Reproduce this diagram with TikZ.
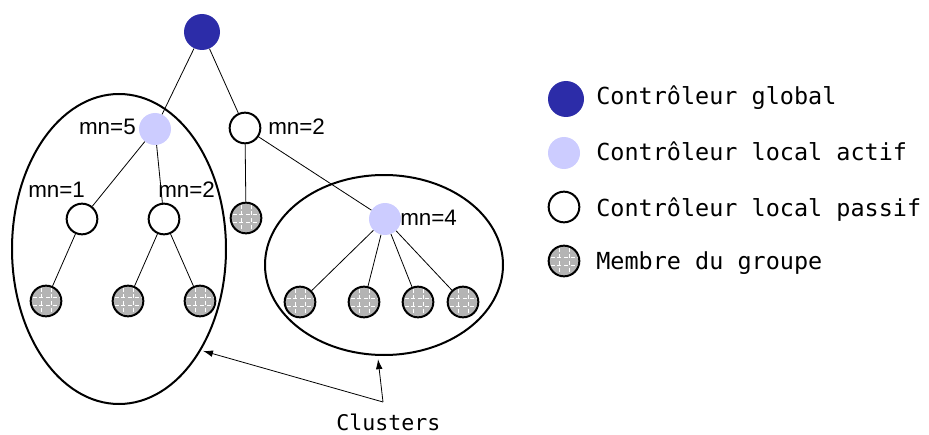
\documentclass[tikz,border=0pt]{standalone}
\usepackage{fontspec}
\newfontfamily\legendfont{DejaVu Sans Mono}
\newfontfamily\labelfont{Liberation Sans}
\usetikzlibrary{arrows.meta,shapes.geometric}
\newcommand{\MNSIZE}{\labelfont\fontsize{16.8}{18}\selectfont}
\newcommand{\LEGSIZE}{\legendfont\fontsize{17.6}{20}\selectfont}
\definecolor{myblue}{HTML}{2C2CA8}
\definecolor{mylilac}{HTML}{CCCCFF}
\definecolor{mygray}{HTML}{B4B4B4}

\begin{document}
\begin{tikzpicture}[x=0.75pt,y=-0.75pt,
    global/.style={circle,fill=myblue,minimum size=27pt,inner sep=0pt},
    actif/.style={circle,fill=mylilac,minimum size=24pt,inner sep=0pt},
    passif/.style={circle,draw,line width=1.5pt,fill=white,minimum size=23pt,inner sep=0pt},
    membre/.style={circle,draw,line width=1.5pt,fill=mygray,minimum size=23pt,inner sep=0pt,
      path picture={%
        \foreach \d in {-4,4}{\draw[white,densely dashed,line width=0.5pt] ([shift={(-20,\d)}]path picture bounding box.center) -- ++(40,0);}
        \foreach \d in {-5,5}{\draw[white,densely dashed,line width=0.5pt] ([shift={(\d,-20)}]path picture bounding box.center) -- ++(0,40);}}},
    cluster/.style={ellipse,draw,line width=1.5pt,inner sep=0pt},
    mn/.style={font=\MNSIZE,inner sep=0pt},
    legend/.style={font=\LEGSIZE,inner sep=0pt,anchor=base west},
    link/.style={line width=0.6pt}]

    \useasboundingbox (0,0) rectangle (929,435);

    % the two clusters
    \node[cluster,minimum width=160.5pt,minimum height=232.5pt] (clA) at (119,249) {};
    \node[cluster,minimum width=178.5pt,minimum height=135pt] (clB) at (384,265) {};

    % controllers
    \node[global] (glob) at (202,32) {};
    \node[actif] (act5) at (155,129) {};
    \node[passif] (pas2) at (245,128) {};
    \node[passif] (pas1) at (82,219) {};
    \node[passif] (pas2b) at (164,219) {};
    \node[actif] (act4) at (385,219) {};

    % group members
    \node[membre] (m0) at (246,218) {};
    \foreach \x [count=\i] in {46,128,200}{% members of the left cluster
      \node[membre] (mA\i) at (\x,301) {};
    }
    \foreach \x [count=\i] in {300,364,418,463}{% members of the right cluster
      \node[membre] (mB\i) at (\x,302) {};
    }

    \draw[link] (glob) -- (act5) (glob) -- (pas2);
    \draw[link] (act5) -- (pas1) (act5) -- (pas2b);
    \draw[link] (pas2) -- (m0) (pas2) -- (act4);
    \draw[link] (pas1) -- (mA1) (pas2b) -- (mA2) (pas2b) -- (mA3);
    \foreach \i in {1,...,4}{\draw[link] (act4) -- (mB\i);}

    % mn labels
    \node[mn,anchor=base east] (l5) at (136,134) {mn=5};
    \node[mn,anchor=base west] (l2) at (268,134) {mn=2};
    \node[mn,anchor=base west] (l1) at (28,197) {mn=1};
    \node[mn,anchor=base west] (l2b) at (158,197) {mn=2};
    \node[mn,anchor=base west] (l4) at (400,225) {mn=4};

    % Clusters
    \node[legend] (clus) at (336,430) {\legendfont\fontsize{16.2}{18}\selectfont Clusters};
    \coordinate (ctail) at (383,402);
    \draw[link,-{Latex[length=7.5pt,width=5pt]},shorten >=1.5pt] (ctail) -- (clA.-51.7);
    \draw[link,-{Latex[length=7.5pt,width=5pt]},shorten >=2.5pt] (ctail) -- (clB.-94.2);

    % legend
    \node[global] (kglob) at (566,99) {};
    \node[actif] (kact) at (564,153) {};
    \node[passif] (kpas) at (564,207) {};
    \node[membre] (kmem) at (564,261) {};
    \node[legend] (tglob) at (596,105) {Contrôleur global};
    \node[legend] (tact) at (596,161) {Contrôleur local actif};
    \node[legend] (tpas) at (596,216) {Contrôleur local passif};
    \node[legend] (tmem) at (596,269) {Membre du groupe};

\end{tikzpicture}
\end{document}
